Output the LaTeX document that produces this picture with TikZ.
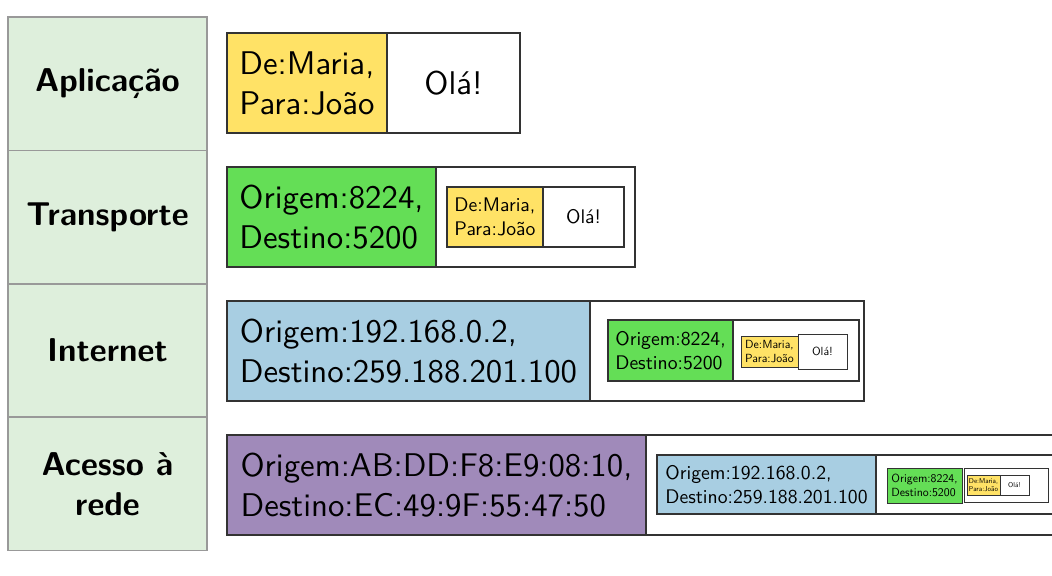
\documentclass[tikz,border=0pt]{standalone}
\usepackage{fontspec}
\setsansfont{lmsans10-regular.otf}[BoldFont=lmsans10-bold.otf, ItalicFont=lmsans10-oblique.otf]
\usepackage{xcolor}
\usepackage{tikz}
\usetikzlibrary{positioning}

\definecolor{camada}{RGB}{222,239,220}
\definecolor{amarelo}{RGB}{255,226,102}
\definecolor{verde}{RGB}{100,222,86}
\definecolor{azul}{RGB}{168,206,226}
\definecolor{roxo}{RGB}{160,138,186}

\begin{document}
\begin{tikzpicture}[
  x=0.5pt, y=-0.5pt,
  font=\sffamily,
  box/.style={draw=black!80, line width=0.8pt, fill=white, align=left, inner sep=0pt, outer sep=0pt},
  layer/.style={draw=black!40, line width=0.8pt, fill=camada, minimum width=99.5pt, minimum height=66.7pt, align=center, outer sep=0pt, font=\sffamily\bfseries\fontsize{16.5}{20}\selectfont},
  lvA/.style={box, font=\sffamily\fontsize{16.4}{20}\selectfont, minimum height=50pt},
  lvB/.style={box, line width=0.6pt, font=\sffamily\fontsize{9.84}{12}\selectfont},
  lvC/.style={box, line width=0.5pt, font=\sffamily\fontsize{5.9}{7.2}\selectfont},
  lvD/.style={box, line width=0.4pt, font=\sffamily\fontsize{3.54}{4.32}\selectfont},
  hdr/.style={anchor=north west}]
\useasboundingbox (0,0) rectangle (1052,575);

\node[layer, anchor=north west] (apl) at (8,17) {Aplicação};
\node[layer, below=0pt of apl] (tra) {Transporte};
\node[layer, below=0pt of tra] (int) {Internet};
\node[layer, below=0pt of int] (ace) {Acesso à\\rede};

\node[lvA, hdr, fill=amarelo, minimum width=80pt] (de1) at (227,33) {De:Maria,\\Para:João};
\node[lvA, right=0pt of de1, minimum width=66.5pt] (msg1) {Olá!};

\node[lvA, hdr, fill=verde, minimum width=104.5pt] (tcp2) at (227,167) {Origem:8224,\\Destino:5200};
\node[lvA, right=0pt of tcp2, minimum width=99.5pt] (pay2) {};
\node[lvB, hdr, fill=amarelo, minimum width=48pt, minimum height=30pt] (de2) at (447,187) {De:Maria,\\Para:João};
\node[lvB, right=0pt of de2, minimum width=40.5pt, minimum height=30pt] (msg2) {Olá!};

\node[lvA, hdr, fill=azul, minimum width=181.5pt] (ip3) at (227,301) {Origem:192.168.0.2,\\Destino:259.188.201.100};
\node[lvA, right=0pt of ip3, minimum width=137pt] (pay3) {};
\node[lvB, hdr, fill=verde, minimum width=62.5pt, minimum height=30.5pt] (tcp3) at (608,320) {Origem:8224,\\Destino:5200};
\node[lvB, right=0pt of tcp3, minimum width=63pt, minimum height=30.5pt] (pay3b) {};
\node[lvC, hdr, fill=amarelo, minimum width=28.5pt, minimum height=15.5pt] (de3) at (741,336) {De:Maria,\\Para:João};
\node[lvC, right=0pt of de3, minimum width=24.5pt, minimum height=17.5pt] (msg3) {Olá!};

\node[lvA, hdr, fill=roxo, minimum width=209.5pt] (eth4) at (227,435) {Origem:AB:DD:F8:E9:08:10,\\Destino:EC:49:9F:55:47:50};
\node[lvA, right=0pt of eth4, minimum width=220pt] (pay4) {};
\node[lvB, hdr, fill=azul, minimum width=109.5pt, minimum height=29.5pt] (ip4) at (657,455) {Origem:192.168.0.2,\\Destino:259.188.201.100};
\node[lvB, right=0pt of ip4, minimum width=100pt, minimum height=29.5pt] (pay4b) {};
\node[lvC, hdr, fill=verde, minimum width=37.5pt, minimum height=17.5pt] (tcp4) at (887,468) {Origem:8224,\\Destino:5200};
\node[lvC, right=1pt of tcp4, minimum width=42pt, minimum height=17pt] (pay4c) {};
\node[lvD, hdr, fill=amarelo, minimum width=16.5pt, minimum height=10pt] (de4) at (967,475) {De:Maria,\\Para:João};
\node[lvD, right=0pt of de4, minimum width=14.5pt, minimum height=10pt] (msg4) {Olá!};
\end{tikzpicture}
\end{document}
